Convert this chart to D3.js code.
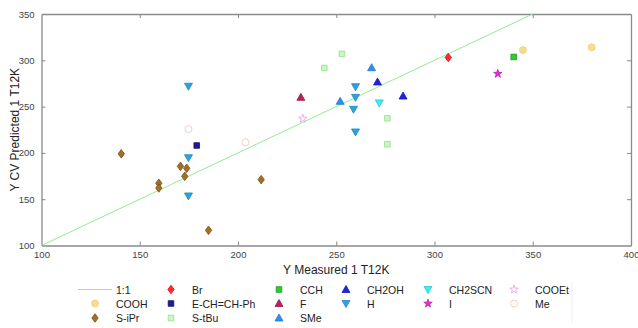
<!DOCTYPE html>
<html>
<head>
<meta charset="utf-8">
<script src="https://cdn.jsdelivr.net/npm/d3@7"></script>
<style>
  body { margin: 0; background: #fff; }
  text { font-family: 'Liberation Sans', Arial, sans-serif; }
</style>
</head>
<body>
<div id="chart"></div>
<script>
/* global d3 */

// data
const xTicks = [100, 150, 200, 250, 300, 350, 400]
const yTicks = [100, 150, 200, 250, 300, 350]
const oneToOne = [[100, 100], [350, 350]]

const groupNames = ['COOH', 'Br', 'E-CH=CH-Ph', 'S-iPr', 'S-tBu', 'CCH', 'F', 'SMe',
  'CH2OH', 'H', 'CH2SCN', 'I', 'COOEt', 'Me']

const cooh = [[345, 311], [380, 314]]
const br = [[307, 303]]
const eChChPh = [[179, 208]]
const sIPr = [[140.6, 199], [170.7, 185.5], [173.9, 183.4], [172.9, 174.7], [159.7, 167.2],
  [159.7, 162.1], [185, 116.4], [211.8, 171.1]]
const sTBu = [[252.9, 307], [243.9, 291.7], [276, 237.4], [276, 209.3]]
const cch = [[340.3, 303.6]]
const fGroup = [[232, 260]]
const sMe = [[268, 292], [252, 255.7]]
const ch2oh = [[284, 261.4], [271, 276.6]]
const hGroup = [[174.8, 272], [174.8, 194.8], [174.8, 153.5], [259.8, 271.5], [259.8, 260],
  [258.8, 247.1], [259.8, 222.6]]
const ch2scn = [[271.9, 254]]
const iGroup = [[332.2, 285.5]]
const cooet = [[233, 237]]
const me = [[174.8, 225.8], [203.8, 211.4]]

const styles = {
  'COOH': {shape: 'circle', fill: '#f8dc8e', stroke: '#efcf7e', data: cooh},
  'Br': {shape: 'diamond', fill: '#ff2a2a', stroke: '#e01010', data: br},
  'E-CH=CH-Ph': {shape: 'square', fill: '#1c1c8e', stroke: '#14146e', data: eChChPh},
  'S-iPr': {shape: 'diamond', fill: '#a0702a', stroke: '#7a5218', data: sIPr},
  'S-tBu': {shape: 'square', fill: '#ccf5c4', stroke: '#92e08a', data: sTBu},
  'CCH': {shape: 'square', fill: '#2ecc2e', stroke: '#1c9c1c', data: cch},
  'F': {shape: 'up', fill: '#b5235c', stroke: '#951848', data: fGroup},
  'SMe': {shape: 'up', fill: '#2f8ff0', stroke: '#2478d0', data: sMe},
  'CH2OH': {shape: 'up', fill: '#2222e6', stroke: '#1818b8', data: ch2oh},
  'H': {shape: 'down', fill: '#2ea2de', stroke: '#2388c0', data: hGroup},
  'CH2SCN': {shape: 'down', fill: '#3cecf4', stroke: '#22cad6', data: ch2scn},
  'I': {shape: 'star', fill: '#e62ad2', stroke: '#c81cb6', data: iGroup},
  'COOEt': {shape: 'star', fill: 'none', stroke: '#f09ae8', data: cooet},
  'Me': {shape: 'circle', fill: 'none', stroke: '#f0c4b4', data: me}
}

const legendCols = [
  ['1:1', 'COOH', 'S-iPr'],
  ['Br', 'E-CH=CH-Ph', 'S-tBu'],
  ['CCH', 'F', 'SMe'],
  ['CH2OH', 'H'],
  ['CH2SCN', 'I'],
  ['COOEt', 'Me']
]

function shapePath(shape) {
  switch (shape) {
    case 'circle':
      return 'M3.5,0A3.5,3.5 0 1,1 -3.5,0A3.5,3.5 0 1,1 3.5,0Z'
    case 'diamond':
      return 'M0,-4.3L3.2,0L0,4.3L-3.2,0Z'
    case 'square':
      return 'M-2.8,-2.8H2.8V2.8H-2.8Z'
    case 'up':
      return 'M0,-4L4,3L-4,3Z'
    case 'down':
      return 'M0,4L4,-3L-4,-3Z'
    case 'star':
      return d3.symbol(d3.symbolStar, 22)()
    default:
      return ''
  }
}

function renderScatter(selector, svgWidth, svgHeight) {
  const svg = d3.select(selector).append('svg')
    .attr('width', svgWidth)
    .attr('height', svgHeight)

  const x = d3.scaleLinear().domain([100, 400]).range([41.5, 631])
  const y = d3.scaleLinear().domain([100, 350]).range([245.5, 14])
  const axisColor = '#8a8a8a'

  const axes = svg.append('g')
  const xAxes = axes.append('g')
  const yAxes = axes.append('g')
  xAxes.append('g')
    .attr('transform', 'translate(0,' + y(100) + ')')
    .call(d3.axisBottom(x).tickValues(xTicks).tickSizeInner(-4).tickSizeOuter(0).tickPadding(6))
  xAxes.append('g')
    .attr('transform', 'translate(0,' + y(350) + ')')
    .call(d3.axisTop(x).tickValues(xTicks).tickSizeInner(-4).tickSizeOuter(0).tickFormat(''))
  yAxes.append('g')
    .attr('transform', 'translate(' + x(100) + ',0)')
    .call(d3.axisLeft(y).tickValues(yTicks).tickSizeInner(-4).tickSizeOuter(0).tickPadding(7))
  yAxes.append('g')
    .attr('transform', 'translate(' + x(400) + ',0)')
    .call(d3.axisRight(y).tickValues(yTicks).tickSizeInner(-4).tickSizeOuter(0).tickFormat(''))

  axes.selectAll('.domain').attr('stroke', axisColor).attr('stroke-width', 1.3)
  axes.selectAll('.tick line').attr('stroke', axisColor)
  axes.selectAll('.tick text')
    .attr('fill', '#444')
    .style('font-size', '9.5px')
  // skip end ticks that sit on the box corners
  xAxes.selectAll('.tick line').filter(d => d === 100 || d === 400).attr('stroke', 'none')
  yAxes.selectAll('.tick line').filter(d => d === 100 || d === 350).attr('stroke', 'none')

  svg.append('text')
    .attr('x', (x(100) + x(400)) / 2)
    .attr('y', 274)
    .attr('text-anchor', 'middle')
    .attr('fill', '#222')
    .style('font-size', '12px')
    .text('Y Measured 1 T12K')

  svg.append('text')
    .attr('transform', 'translate(19,' + (y(225)) + ') rotate(-90)')
    .attr('text-anchor', 'middle')
    .attr('fill', '#222')
    .style('font-size', '12px')
    .text('Y CV Predicted 1 T12K')

  svg.append('path')
    .datum(oneToOne)
    .attr('fill', 'none')
    .attr('stroke', '#90ee90')
    .attr('stroke-width', 1)
    .attr('d', d3.line().x(d => x(d[0])).y(d => y(d[1])))

  groupNames.forEach(name => {
    const s = styles[name]
    svg.append('g').selectAll('path')
      .data(s.data)
      .enter().append('path')
      .attr('transform', d => 'translate(' + x(d[0]) + ',' + y(d[1]) + ')')
      .attr('d', shapePath(s.shape))
      .attr('fill', s.fill)
      .attr('stroke', s.stroke)
      .attr('stroke-width', 0.8)
  })

  // legend
  const colX = [95, 171, 279, 346, 428, 514]
  const rowY = [289.5, 303.5, 318]
  const legend = svg.append('g')
  legendCols.forEach((col, ci) => {
    col.forEach((name, ri) => {
      const cx = colX[ci]
      const cy = rowY[ri]
      if (name === '1:1') {
        legend.append('line')
          .attr('x1', 78).attr('x2', 112)
          .attr('y1', cy).attr('y2', cy)
          .attr('stroke', '#90ee90')
      } else {
        const s = styles[name]
        legend.append('path')
          .attr('transform', 'translate(' + cx + ',' + cy + ')')
          .attr('d', shapePath(s.shape))
          .attr('fill', s.fill)
          .attr('stroke', s.stroke)
          .attr('stroke-width', 0.8)
      }
      legend.append('text')
        .attr('x', name === '1:1' ? 116 : cx + 21)
        .attr('y', cy + 4)
        .attr('fill', '#222')
        .style('font-size', '10.5px')
        .text(name)
    })
  })
  legend.append('line')
    .attr('x1', 572).attr('x2', 572)
    .attr('y1', 282).attr('y2', 324)
    .attr('stroke', '#f0f0f0')
}

renderScatter('#chart', 638, 328)
</script>
</body>
</html>
